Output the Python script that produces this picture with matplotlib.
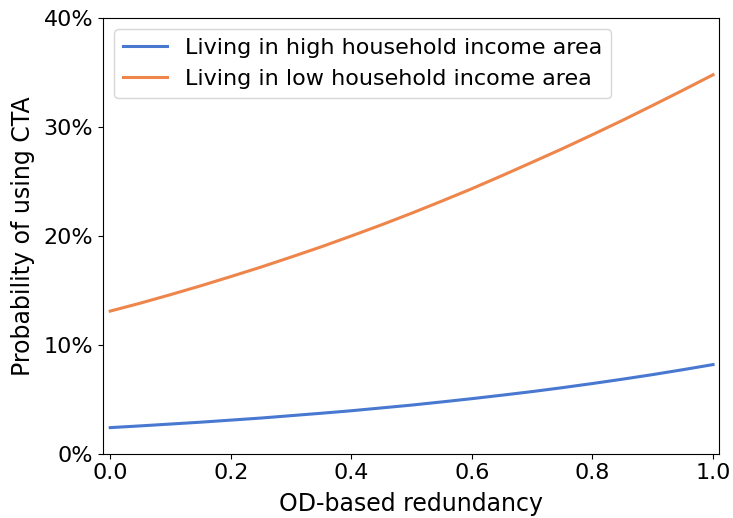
import numpy as np
import matplotlib.pyplot as plt
from matplotlib.ticker import PercentFormatter

# values
redundancy = [0.0, 0.05, 0.1, 0.15, 0.2, 0.25, 0.3, 0.35, 0.4, 0.45, 0.5,
              0.55, 0.6, 0.65, 0.7, 0.75, 0.8, 0.85, 0.9, 0.95, 1.0]
prob_high_income = [0.0240, 0.0256, 0.0273, 0.0290, 0.0309, 0.0328, 0.0350, 0.0372, 0.0395, 0.0421, 0.0447,
                    0.0476, 0.0506, 0.0538, 0.0571, 0.0607, 0.0645, 0.0685, 0.0727, 0.0772, 0.0819]
prob_low_income = [0.1310, 0.1383, 0.1461, 0.1542, 0.1627, 0.1714, 0.1806, 0.1900, 0.2000, 0.2102, 0.2209,
                   0.2320, 0.2434, 0.2554, 0.2677, 0.2801, 0.2930, 0.3062, 0.3199, 0.3338, 0.3480]

fig = plt.figure(figsize=(7.33, 5.18), dpi=100)
ax = fig.add_axes([0.1405, 0.124, 0.8405, 0.841])

ax.plot(redundancy, prob_high_income, color="#4878d0", linewidth=2.2,
        label="Living in high household income area")
ax.plot(redundancy, prob_low_income, color="#ee854a", linewidth=2.2,
        label="Living in low household income area")

ax.set_xlim(-0.012, 1.01)
ax.set_ylim(0, 0.4)
ax.yaxis.set_major_formatter(PercentFormatter(1.0, decimals=0))
ax.set_xticks([0.0, 0.2, 0.4, 0.6, 0.8, 1.0])
ax.set_yticks([0, 0.1, 0.2, 0.3, 0.4])
ax.tick_params(labelsize=16)

ax.set_xlabel("OD-based redundancy", fontsize=17, labelpad=6)
ax.set_ylabel("Probability of using CTA", fontsize=17, labelpad=6)
ax.legend(loc="upper left", fontsize=16)

fig.savefig("out.png", dpi=100)
